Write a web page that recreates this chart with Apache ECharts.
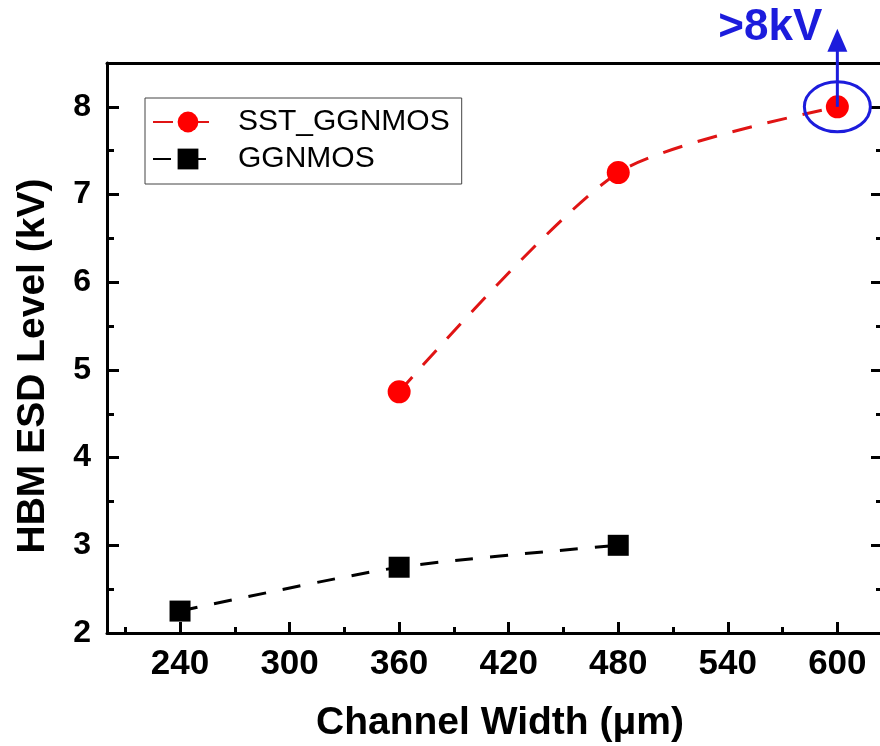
<!DOCTYPE html>
<html>
<head>
<meta charset="utf-8">
<script src="https://cdn.jsdelivr.net/npm/echarts@6/dist/echarts.min.js"></script>
<style>
  html, body { margin: 0; padding: 0; background: #fff; }
  #chart { width: 880px; height: 746px; }
</style>
</head>
<body>
<div id="chart"></div>
<script>
// channel width (um) and HBM ESD level (kV)
const sstWidth = [360, 480, 600]
const sstLevel = [4.75, 7.25, 8.0]
const ggWidth = [240, 360, 480]
const ggLevel = [2.25, 2.75, 3.0]

const xMajor = [240, 300, 360, 420, 480, 540, 600]
const xMinor = [210, 270, 330, 390, 450, 510, 570]
const yMajor = [2, 3, 4, 5, 6, 7, 8]
const yMinor = [2.5, 3.5, 4.5, 5.5, 6.5, 7.5]

// the ">8kV" note sits on this point
const notePoint = [600, 8]

const FONT = 'Arial, "Liberation Sans", sans-serif'
const BLUE = "#1c1cdc"
const AXIS = { lineStyle: { color: "#000", width: 3 } }

const chart = echarts.init(document.getElementById("chart"))

function tickAxis(values, len, extra) {
  return Object.assign({
    type: "value",
    axisLine: { show: false },
    axisTick: { show: true, inside: true, length: len, customValues: values, lineStyle: { color: "#000", width: 3 } },
    axisLabel: { show: false },
    splitLine: { show: false },
  }, extra)
}

const option = {
  animation: false,
  backgroundColor: "#fff",
  grid: { left: 107, right: -3, top: 63, bottom: 113, outerBoundsMode: "none", containLabel: false },
  legend: {
    orient: "vertical",
    left: 145,
    top: 98,
    padding: [9, 12, 10, 7],
    itemGap: 7,
    itemWidth: 70,
    itemHeight: 26,
    borderColor: "#444",
    borderWidth: 1,
    textStyle: { fontFamily: FONT, fontSize: 30, color: "#000", lineHeight: 30, padding: [0, 0, 0, 10] },
    data: ["SST_GGNMOS", "GGNMOS"],
  },
  xAxis: [
    {
      type: "value", min: 200, max: 625, position: "bottom",
      name: "Channel Width (\u03bcm)",
      nameLocation: "middle",
      nameGap: 71,
      nameTextStyle: { fontFamily: FONT, fontSize: 39, fontWeight: "bold", color: "#000", padding: [0, 0, 0, 10] },
      axisLine: AXIS,
      axisTick: { inside: true, length: 11, customValues: xMajor, lineStyle: { color: "#000", width: 3 } },
      axisLabel: { customValues: xMajor, margin: 14, fontFamily: FONT, fontSize: 35, fontWeight: "bold", color: "#000" },
      splitLine: { show: false },
    },
    tickAxis(xMinor, 6, { min: 200, max: 625, position: "bottom" }),
    { type: "value", min: 200, max: 625, position: "top", axisLine: AXIS, axisTick: { show: false }, axisLabel: { show: false }, splitLine: { show: false } },
  ],
  yAxis: [
    {
      type: "value", min: 2, max: 8.5, position: "left",
      name: "HBM ESD Level (kV)",
      nameLocation: "middle",
      nameGap: 54,
      nameTextStyle: { fontFamily: FONT, fontSize: 39, fontWeight: "bold", color: "#000", padding: [0, 36, 0, 0] },
      axisLine: AXIS,
      axisTick: { inside: true, length: 12, customValues: yMajor, lineStyle: { color: "#000", width: 3 } },
      axisLabel: { customValues: yMajor, margin: 16, fontFamily: FONT, fontSize: 32, fontWeight: "bold", color: "#000" },
      splitLine: { show: false },
    },
    tickAxis(yMinor, 7, { min: 2, max: 8.5, position: "left" }),
    Object.assign(tickAxis(yMajor, 12, { min: 2, max: 8.5, position: "right" }), { axisLine: AXIS }),
    tickAxis(yMinor, 7, { min: 2, max: 8.5, position: "right" }),
  ],
  series: [
    {
      name: "SST_GGNMOS",
      type: "line",
      smooth: 0.25,
      data: sstWidth.map((w, i) => [w, sstLevel[i]]),
      symbol: "circle",
      symbolSize: 23,
      itemStyle: { color: "#ff0000" },
      lineStyle: { color: "#e01414", width: 3, type: [20, 16] },
      z: 5,
    },
    {
      name: "GGNMOS",
      type: "line",
      smooth: 0.25,
      data: ggWidth.map((w, i) => [w, ggLevel[i]]),
      symbol: "rect",
      symbolSize: 21,
      itemStyle: { color: "#000" },
      lineStyle: { color: "#000", width: 3, type: [18, 17] },
      z: 5,
    },
  ],
}

chart.setOption(option)

// annotation: ellipse round the 600 um point, arrow up and ">8kV"
const p = chart.convertToPixel({ xAxisIndex: 0, yAxisIndex: 0 }, notePoint)
chart.setOption({
  graphic: [
    { type: "ellipse", z: 20, shape: { cx: p[0], cy: p[1], rx: 33, ry: 25 }, style: { fill: "none", stroke: BLUE, lineWidth: 3 } },
    { type: "line", z: 20, shape: { x1: p[0], y1: p[1], x2: p[0], y2: p[1] - 58 }, style: { stroke: BLUE, lineWidth: 3 } },
    { type: "polygon", z: 20, shape: { points: [[p[0], p[1] - 78], [p[0] - 10, p[1] - 55], [p[0] + 10, p[1] - 55]] }, style: { fill: BLUE } },
    {
      type: "text", z: 20, x: p[0] - 15, y: p[1] - 57,
      style: { text: ">8kV", fill: BLUE, font: "bold 44px " + FONT, textAlign: "right", textVerticalAlign: "bottom" },
    },
  ],
})
</script>
</body>
</html>
